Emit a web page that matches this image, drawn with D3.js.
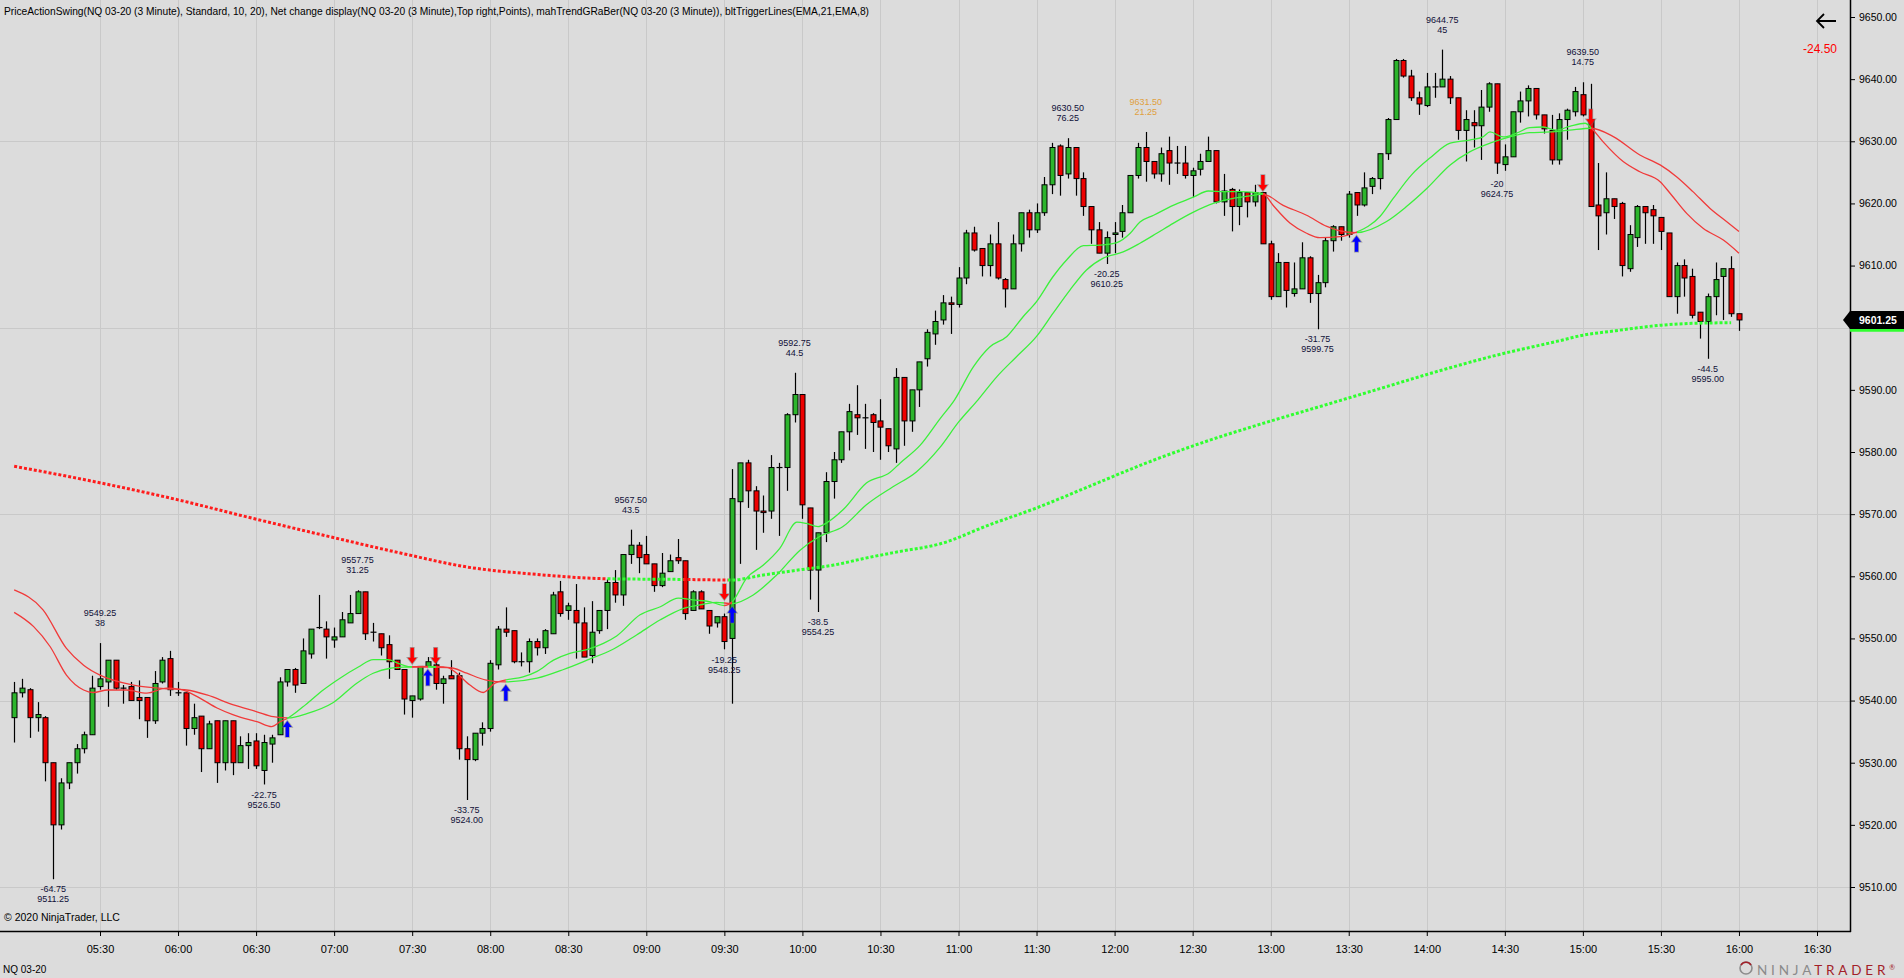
<!DOCTYPE html>
<html>
<head>
<meta charset="utf-8">
<script src="https://cdn.jsdelivr.net/npm/d3@7"></script>
<style>
body { margin:0; background:#dcdcdc; overflow:hidden; }
svg { display:block; font-family:'Liberation Sans', Arial, sans-serif; }
</style>
</head>
<body>
<div id="chart"></div>
<script>
var W = 1904, H = 978
var plotRight = 1850, plotBottom = 931

var title = 'PriceActionSwing(NQ 03-20 (3 Minute), Standard, 10, 20), Net change display(NQ 03-20 (3 Minute),Top right,Points), mahTrendGRaBer(NQ 03-20 (3 Minute)), bltTriggerLines(EMA,21,EMA,8)'
var instrument = 'NQ 03-20'
var lastPrice = 9601.25
var netChange = '-24.50'

// 3 minute bars, first bar 04:57, last bar 16:00
var opens = [
 9537.25,9541.25,9541.75,9537.25,9537.25,9530,9520,9526.75,9530,9532.25,
 9534.5,9542.25,9543,9546.5,9542,9542.25,9540.5,9540.5,9536.75,9543,
 9546.75,9541.25,9541.25,9535.5,9537.5,9532.25,9536.75,9530,9536.75,9530,
 9532.75,9533.5,9528.75,9533,9534.5,9543,9545,9542.75,9547.5,9551.75,
 9551.5,9549.75,9550.25,9552.5,9554,9557.5,9551,9550.75,9549,9546.5,
 9545,9540,9540.25,9545.5,9545.75,9542.75,9544,9544,9532.25,9530.5,
 9534.75,9535.5,9545.75,9551.5,9551.25,9546.25,9546.25,9549.5,9548.5,9550.75,
 9557.5,9554.5,9554.5,9552.5,9547.25,9551.25,9554.5,9559,9557,9563.5,
 9565,9563.5,9562,9558.5,9560.75,9563,9562.5,9554.5,9557.5,9554.5,
 9552.5,9553.5,9550,9572,9578.25,9573.75,9570.5,9570.5,9577.5,9577.5,
 9586,9589.25,9571,9561,9567,9575.25,9578.75,9583.25,9586,9585.5,
 9586,9585,9583.75,9580.5,9592,9585,9590,9595,9599,9601.25,
 9604,9603.75,9608,9615.25,9612.75,9610,9613.5,9607.75,9606.25,9613.5,
 9618.5,9615.75,9618.5,9623,9629.25,9624.75,9629,9624,9619.5,9615.75,
 9612,9615,9615.5,9618.5,9624.5,9629,9626.75,9624.75,9628.5,9626.5,
 9626.5,9624.5,9625.5,9626.75,9628.5,9620.25,9622.25,9619.5,9621.75,9620.25,
 9621.75,9613.5,9605,9610.5,9605.5,9606.25,9611.25,9605.5,9607.25,9614,
 9616.25,9615,9621.75,9619.75,9622.75,9624,9628,9633.5,9643,9640.5,
 9637,9635.75,9638.75,9638.75,9640,9637,9631.75,9633,9632.5,9635.5,
 9639.25,9626.25,9627.5,9634.75,9636.5,9638.5,9634.25,9631.75,9627,9633.5,
 9634.75,9637.5,9633.5,9619.75,9618.5,9620.75,9620,9609.5,9614.5,9619.5,
 9619,9617.75,9615.25,9605,9610,9608.25,9602.5,9601,9605,9608.25,
 9609.5,9602.25]
var highs = [
 9543,9543.5,9542,9539.75,9537.5,9530,9527.5,9530,9533,9535,
 9544,9549.25,9546.5,9546.5,9542.5,9543,9543.25,9540.5,9544.75,9547,
 9548,9543,9541.25,9539.5,9537.5,9536.75,9536.75,9536.75,9536.75,9534.25,
 9534.75,9534.75,9534.5,9534.5,9543.75,9545,9545.25,9550,9551.5,9557,
 9552.75,9551.75,9554.25,9557,9557.75,9557.5,9552.5,9550.75,9550.5,9546.5,
 9545,9540.75,9545.5,9547,9546.5,9544,9546.5,9544.5,9534.25,9534.75,
 9536.5,9546.5,9552,9555,9551.25,9547.75,9550,9550,9551.5,9557.5,
 9559.25,9555.75,9558.75,9555,9556,9554.5,9559.5,9561,9563.5,9567.5,
 9565.5,9566.5,9562,9563.75,9563.5,9566,9562.5,9557.75,9557.75,9554.5,
 9553.5,9554,9577.25,9578.25,9578.75,9574.5,9573,9579.5,9578.25,9586.25,
 9592.75,9589.25,9571,9567,9576.75,9580,9583.25,9587.75,9590.75,9587.75,
 9586.25,9588.5,9583.75,9593.5,9592,9590,9594.5,9599.75,9602.75,9605.25,
 9605,9609.75,9615.75,9616.25,9612.75,9615,9617,9608,9615,9618.5,
 9619,9620,9624.25,9629.75,9629.5,9630.5,9629,9625,9619.5,9617,
 9615.5,9617,9619.75,9624.5,9629.75,9631.5,9626.75,9629,9630.75,9629.25,
 9629.25,9625.75,9628,9630.75,9628.5,9624.75,9622.5,9622.25,9621.75,9623,
 9621.75,9614,9612,9610.5,9610.5,9613.75,9611.5,9608.5,9614.5,9616.5,
 9616.25,9622,9621.75,9625,9624.25,9628,9633.75,9643.25,9643.25,9641.5,
 9638,9641,9641,9644.75,9640.5,9637,9635,9635,9638.25,9639.5,
 9639.25,9629.5,9634.75,9638,9639,9638.5,9634.25,9634.25,9634.5,9635.25,
 9638.75,9639.5,9639.25,9626.5,9625,9620.75,9620.25,9616.5,9619.75,9619.5,
 9619.75,9617.75,9615.25,9610.5,9611,9609.5,9602.5,9605.5,9610.5,9609.5,
 9611.5,9602.25]
var lows = [
 9533.25,9540.5,9534,9535,9527,9511.25,9519.25,9525.75,9528.25,9531.5,
 9534.5,9541.75,9539,9541.75,9539.5,9540,9537,9534,9536.25,9542.75,
 9540.75,9540.75,9532.75,9534.5,9528.5,9532.25,9526.75,9528.75,9528,9530,
 9529,9529,9526.5,9530,9534.5,9542.25,9541.25,9542.75,9546.75,9551.5,
 9546.75,9548.5,9550.25,9552.5,9554,9549.75,9549.5,9547.25,9543.5,9545,
 9537.75,9537.25,9540,9545.5,9541.75,9539.5,9543.5,9530.5,9524,9530.25,
 9532.75,9535,9545,9550.25,9546,9545.5,9544.5,9547.25,9547.5,9550.75,
 9553.5,9553,9546.75,9547,9546,9550.75,9551.5,9555.75,9555.25,9562,
 9560.5,9562,9557.5,9558.25,9560.75,9562,9553,9554.5,9554.75,9550.75,
 9551.75,9548.25,9539.5,9562,9571,9564.25,9567,9569.25,9566.5,9573.75,
 9584.75,9569.25,9556.25,9554.25,9565.5,9572.5,9578.25,9580.25,9582.75,9580.5,
 9580,9578.75,9580,9578.25,9581,9583.25,9587.25,9593.75,9597.25,9600.5,
 9599,9603.25,9607,9612.25,9608.25,9608.25,9607.75,9603.25,9606.25,9612.25,
 9614.5,9615.25,9618,9621.5,9621.25,9624,9621.25,9618,9613.5,9612,
 9610.25,9612,9614.5,9618.5,9624,9623.5,9624,9623.5,9623,9624.75,
 9624,9621,9624.5,9626.75,9620,9618,9615.5,9616.5,9617.75,9619.5,
 9613.5,9604.5,9605,9603.25,9605,9606.25,9604,9599.75,9606.5,9612.25,
 9614,9614.5,9618,9619.5,9621.5,9622.25,9627,9633.5,9640.25,9636.5,
 9634.25,9635.5,9637,9638.75,9636,9630.25,9626.75,9629,9627,9634.75,
 9624.75,9625.25,9627.5,9633,9634,9633.5,9631.25,9626.25,9626.25,9630.25,
 9634,9634,9619.5,9612.5,9615,9617.5,9608.25,9609,9613,9613.5,
 9613.5,9612.5,9605,9602.25,9605,9601.5,9598.25,9595,9602,9601.25,
 9601.75,9599.5]
var closes = [
 9541.25,9542,9537.25,9537.75,9530,9520,9526.75,9530,9532.25,9534.5,
 9542,9543.5,9546.5,9542,9542,9540,9540,9536.75,9542.75,9546.5,
 9541.75,9541.25,9535.5,9537.25,9532.25,9536.25,9530,9536.75,9530,9532.75,
 9533.25,9529.5,9533.25,9534,9543,9545,9542.5,9548,9551.5,9551.75,
 9550.25,9550.25,9553,9554,9557.5,9550.75,9551,9548.5,9546.25,9545,
 9540.25,9540.75,9545.5,9546.25,9542.75,9543.5,9543.5,9532.25,9530.5,9534.75,
 9535.5,9546,9551.5,9551,9546.25,9546.25,9549.5,9548.5,9551.25,9557,
 9554,9555.25,9552.5,9547,9551,9554.5,9559,9557,9563.5,9565,
 9563,9562,9558.5,9560.5,9562.5,9562.5,9554,9557.5,9554.75,9552,
 9553.5,9549.5,9572.5,9578.25,9573.75,9570.5,9570.25,9577.5,9577.5,9586,
 9589.25,9571.5,9561,9567,9575.25,9578.75,9583.25,9586.5,9585.5,9585.5,
 9584.75,9584,9581,9592,9585,9590,9594.5,9599.25,9601,9604,
 9603.75,9608,9615.25,9612.5,9610,9613.5,9608,9606.25,9613.5,9618.5,
 9615.75,9618.5,9623,9629,9624.5,9629,9624,9619.5,9615.75,9612,
 9614.5,9615.25,9618.5,9624.5,9629,9626.75,9624.75,9628,9626.5,9626.5,
 9624.5,9625.25,9626.75,9628.5,9620.25,9622,9619.5,9621.75,9620.25,9621.75,
 9613.5,9605,9610.5,9606,9606.25,9611.25,9605.5,9607.25,9614,9616.25,
 9615,9621.5,9619.75,9622.5,9624,9628,9633.5,9643,9640.5,9637,
 9636,9638.75,9638.75,9640,9637,9631.75,9633.5,9632.5,9635.5,9639.25,
 9626.5,9627.5,9634.75,9636.5,9638.5,9634.25,9632,9627,9633.5,9635,
 9638,9634.25,9619.5,9618,9620.75,9619.5,9610,9615,9619.5,9618.5,
 9618,9615.5,9605,9610,9608,9602,9601,9605,9607.75,9609.5,
 9602.25,9601.25]

// trigger lines (bar index, price)
var fastIdx = [0,2.5,4.6,6.7,8.9,10.1,12,14.4,17,19.5,21.3,23.8,26,28.1,30.2,31.1,33,34.1,35.1,37.5,
 39.6,41.75,44.1,46,47.9,49.2,50.9,53,55.5,56.7,58.4,60.1,61.6,62.9,65.2,67,69.1,71.2,73.4,75.5,
 77.2,80.2,82.8,85.1,87,89.2,91,92,93.85,96,98.1,100.3,101.5,103,104.1,106.2,109.2,112.2,113.5,116.1,
 118.6,120.5,122.9,125,127.2,129.3,131,133.1,134.85,137,139.1,141.3,143,144.25,146,148.5,151.1,153,155,157.1,
 160,161.3,163.5,165.6,167.3,169.9,172,175,176.7,179.05,181.4,184,186.5,188.2,189.1,190.8,192.5,194.2,195.9,197.6,
 199.3,201.3,202.1,203.6,206.2,208.3,210.9,212.2,214.3,216.4,219,221]
var fastVal = [9554.2,9551.9,9548.7,9544.1,9541.7,9541.3,9541.7,9541.7,9541.2,9542.0,9541.8,9540.4,9538.8,9537.7,9536.9,9536.6,9535.8,9536.6,9537.2,9539.5,
 9541.7,9543.6,9545.4,9546.6,9546.6,9546.0,9545.4,9545.4,9545.3,9544.4,9542.5,9541.3,9542.8,9543.3,9543.8,9544.7,9546.5,9547.6,9548.2,9549.2,
 9550.4,9553.8,9555.1,9556.5,9556.2,9555.9,9555.3,9555.9,9559.7,9561.8,9564.5,9568.7,9568.5,9568.0,9568.6,9570.7,9575.0,9576.7,9578.2,9581.1,
 9585.3,9588.4,9593.7,9596.9,9598.6,9601.8,9604.2,9608.2,9610.9,9613.2,9613.3,9613.7,9615.2,9617.0,9618.1,9619.7,9621.0,9622.0,9621.9,9621.9,
 9621.6,9619.7,9616.8,9615.2,9614.5,9614.65,9615.4,9617.9,9620.8,9624.6,9627.3,9629.7,9630.2,9630.7,9631.5,9630.7,9631.3,9632.2,9632.3,9631.8,
 9632.4,9632.9,9632.1,9629.9,9626.7,9625.1,9623.5,9621.6,9618.4,9616.0,9614.1,9612.0]
var slowIdx = [0,3.7,6.7,8.9,11,15.3,19.5,22.1,24.7,28.1,31.1,33.2,35.1,37.5,40.9,43.9,46,48.2,50.3,53,
 55,56.3,58,60.5,62.9,67,70.4,73.4,76.8,79.8,82.8,85.7,88.3,90,92,94.7,97.7,100.7,103.2,106.2,
 109.2,112.6,115.6,118.6,121,123.5,125.9,128.4,131,133.1,135.3,137.4,139.55,142.1,144.25,146.4,148.5,151.1,153.65,156.2,
 158.35,160,162.6,165.6,168.2,170.7,172,175.85,178.4,181,184,186.5,189.1,191.65,194.2,196.8,199.3,202.1,204.9,208.3,
 210.9,213,215.1,217.3,219.4,221]
var slowVal = [9557.8,9554.6,9548.4,9545.7,9544.1,9542.5,9541.9,9541.7,9540.9,9539.3,9538.2,9537.4,9537.2,9537.9,9539.7,9542.8,9544.4,9545.2,9545.4,9545.5,
 9545.4,9545.2,9544.4,9543.3,9543.0,9543.6,9545.0,9546.5,9548.3,9550.6,9553.0,9554.8,9555.5,9555.8,9555.6,9557.0,9560.2,9564.2,9566.4,9568.0,
 9571.5,9574.4,9576.8,9580.7,9584.8,9588.4,9592.1,9595.3,9598.6,9602.3,9606.1,9609.3,9611.2,9612.2,9613.6,9615.2,9616.8,9618.6,9620.0,9620.8,
 9621.2,9621.5,9619.7,9618.1,9616.3,9615.4,9615.3,9617.1,9619.5,9622.4,9626.2,9628.3,9629.7,9630.7,9631.4,9631.5,9631.8,9632.1,9630.75,9627.8,
 9626.2,9624.3,9621.9,9619.2,9617.1,9615.5]
var upSignals = [35, 53, 63, 92, 172]
var downSignals = [51, 54, 91, 160, 202]

// mahTrendGRaBer dotted line (bar index, price) and where it is green
var dotIdx = [0,10,21,30,40,50,58,67,76,85,92,96,101,105,109,113.5,118.6,125,131,138,
 145,152,160,167,175,183,190,198,201,204.5,207.5,211,215,220]
var dotVal = [9577.7,9575.3,9572.3,9569.5,9566.5,9563.6,9561.5,9560.3,9559.6,9559.5,9559.4,9560.2,9561.1,9561.8,9562.9,9564.0,9565.2,9568.3,9571.0,9574.6,
 9578.2,9581.4,9584.6,9587.2,9590.2,9593.2,9595.6,9597.9,9598.8,9599.4,9599.9,9600.4,9600.7,9600.8]
var dotBreaks = [76, 85.7, 91.5]

// swing labels
var swingHighIdx = [11, 44, 79, 100, 135, 145, 183, 201]
var swingHighPrice = ['9549.25','9557.75','9567.50','9592.75','9630.50','9631.50','9644.75','9639.50']
var swingHighMove = ['38','31.25','43.5','44.5','76.25','21.25','45','14.75']
var swingLowIdx = [5, 32, 58, 91, 103, 140, 167, 190, 217]
var swingLowPrice = ['9511.25','9526.50','9524.00','9548.25','9554.25','9610.25','9599.75','9624.75','9595.00']
var swingLowMove = ['-64.75','-22.75','-33.75','-19.25','-38.5','-20.25','-31.75','-20','-44.5']
var pendingSwing = 145

var upColor = '#2db52d', downColor = '#ee0000'
var lineRed = '#f03a3a', lineGreen = '#3cf03c'
var dotRed = '#ff1c1c', dotGreen = '#30ff30'

var firstBar = new Date(2020, 1, 14, 4, 57)
var x = d3.scaleTime()
	.domain([new Date(2020, 1, 14, 5, 30), new Date(2020, 1, 14, 16, 30)])
	.range([100, 1817])
var y = d3.scaleLinear().domain([9510, 9650]).range([887, 17])

function barTime(i) { return new Date(firstBar.getTime() + i * 180000) }
function xAt(i) { return x(barTime(i)) }
function valueAt(idx, val, i) {
	var j = d3.bisectRight(idx, i)
	if (j <= 0) return val[0]
	if (j >= idx.length) return val[val.length - 1]
	var t = (i - idx[j-1]) / (idx[j] - idx[j-1])
	return val[j-1] + t * (val[j] - val[j-1])
}

var svg = d3.select('#chart').append('svg').attr('width', W).attr('height', H)
svg.append('rect').attr('width', W).attr('height', H).attr('fill', '#dcdcdc')

var defs = svg.append('defs')
defs.append('clipPath').attr('id', 'plotClip').append('rect')
	.attr('x', 0).attr('y', 0).attr('width', plotRight).attr('height', plotBottom)

function addGradient(id, breaks, colors) {
	var g = defs.append('linearGradient').attr('id', id)
		.attr('gradientUnits', 'userSpaceOnUse')
		.attr('x1', 0).attr('x2', plotRight).attr('y1', 0).attr('y2', 0)
	g.append('stop').attr('offset', 0).attr('stop-color', colors[0])
	breaks.forEach(function(b, k) {
		var off = xAt(b) / plotRight
		g.append('stop').attr('offset', off).attr('stop-color', colors[k])
		g.append('stop').attr('offset', off).attr('stop-color', colors[k+1])
	})
	g.append('stop').attr('offset', 1).attr('stop-color', colors[colors.length-1])
}

// colour changes of the trigger lines follow the arrows
var signals = upSignals.map(function(d){ return {i: d, up: true} })
	.concat(downSignals.map(function(d){ return {i: d, up: false} }))
	.sort(function(a, b){ return a.i - b.i })
var trigColors = [lineRed].concat(signals.map(function(s){ return s.up ? lineGreen : lineRed }))
addGradient('trigGrad', signals.map(function(s){ return s.i }), trigColors)
addGradient('dotGrad', dotBreaks, [dotRed, dotGreen, dotRed, dotGreen])

// grid
var timeTicks = x.ticks(d3.timeMinute.every(30))
var grid = svg.append('g').attr('stroke', '#c9c9c9').attr('stroke-width', 1)
timeTicks.forEach(function(t) {
	var gx = Math.round(x(t)) + 0.5
	grid.append('line').attr('x1', gx).attr('x2', gx).attr('y1', 0).attr('y2', plotBottom)
})
d3.range(9510, 9650, 30).forEach(function(p) {
	var gy = Math.round(y(p)) + 0.5
	grid.append('line').attr('x1', 0).attr('x2', plotRight).attr('y1', gy).attr('y2', gy)
})

var plot = svg.append('g').attr('clip-path', 'url(#plotClip)')

// candles
var candles = plot.append('g')
closes.forEach(function(c, i) {
	var cx = Math.round(xAt(i)) + 0.5
	var o = opens[i]
	candles.append('line').attr('x1', cx).attr('x2', cx)
		.attr('y1', y(highs[i])).attr('y2', y(lows[i]))
		.attr('stroke', '#000').attr('stroke-width', 1.2)
	if (o === c) {
		candles.append('line').attr('x1', cx - 3).attr('x2', cx + 3)
			.attr('y1', y(c)).attr('y2', y(c)).attr('stroke', '#000').attr('stroke-width', 1.2)
	} else {
		var top = y(Math.max(o, c)), bot = y(Math.min(o, c))
		candles.append('rect').attr('x', cx - 2.5).attr('width', 5)
			.attr('y', top).attr('height', Math.max(1, bot - top))
			.attr('fill', c > o ? upColor : downColor)
			.attr('stroke', '#000').attr('stroke-width', 1)
	}
})

// dotted trend line
var dotLine = d3.line().x(function(d){ return xAt(d[0]) }).y(function(d){ return y(d[1]) })
	.curve(d3.curveMonotoneX)
plot.append('path').datum(d3.zip(dotIdx, dotVal)).attr('d', dotLine)
	.attr('fill', 'none').attr('stroke', 'url(#dotGrad)')
	.attr('stroke-width', 3).attr('stroke-dasharray', '3,2')

// trigger lines
var trigLine = d3.line().x(function(d){ return xAt(d[0]) }).y(function(d){ return y(d[1]) })
	.curve(d3.curveMonotoneX)
plot.append('path').datum(d3.zip(slowIdx, slowVal)).attr('d', trigLine)
	.attr('fill', 'none').attr('stroke', 'url(#trigGrad)').attr('stroke-width', 1.3)
plot.append('path').datum(d3.zip(fastIdx, fastVal)).attr('d', trigLine)
	.attr('fill', 'none').attr('stroke', 'url(#trigGrad)').attr('stroke-width', 1.3)

// signal arrows
var arrows = plot.append('g')
signals.forEach(function(s) {
	var ax = xAt(s.i)
	var lv = y(valueAt(slowIdx, slowVal, s.i))
	var d = s.up ? 1 : -1
	var tip = lv + d * 3
	var pts = [[0,0],[-4.5,6],[-1.7,6],[-1.7,16],[1.7,16],[1.7,6],[4.5,6]]
	arrows.append('path')
		.attr('d', 'M' + pts.map(function(p){ return (ax + p[0]) + ',' + (tip + d * p[1]) }).join('L') + 'Z')
		.attr('fill', s.up ? '#0000ff' : '#ff0000')
		.attr('stroke', 'rgba(110,110,110,0.55)').attr('stroke-width', 1.6)
		.style('paint-order', 'stroke')
})

// swing labels
var labels = svg.append('g').attr('font-size', '9px').attr('text-anchor', 'middle')
swingHighIdx.forEach(function(b, k) {
	var lx = xAt(b), ly = y(highs[b])
	var col = b === pendingSwing ? '#e0a040' : '#101038'
	labels.append('text').attr('x', lx).attr('y', ly - 26.8).attr('fill', col).text(swingHighPrice[k])
	labels.append('text').attr('x', lx).attr('y', ly - 16.8).attr('fill', col).text(swingHighMove[k])
})
swingLowIdx.forEach(function(b, k) {
	var lx = xAt(b), ly = y(lows[b])
	labels.append('text').attr('x', lx).attr('y', ly + 13.2).attr('fill', '#101038').text(swingLowMove[k])
	labels.append('text').attr('x', lx).attr('y', ly + 23.2).attr('fill', '#101038').text(swingLowPrice[k])
})

// axes
var yAxis = svg.append('g').attr('transform', 'translate(' + plotRight + ',0)')
	.call(d3.axisRight(y).tickValues(d3.range(9510, 9651, 10)).tickSize(5).tickPadding(4)
		.tickFormat(d3.format('.2f')))
yAxis.select('.domain').remove()
yAxis.selectAll('text').attr('font-size', '10.5px').attr('font-family', "'Liberation Sans', Arial").attr('fill', '#000')
yAxis.selectAll('line').attr('stroke', '#000')
// the last price marker covers this label
yAxis.selectAll('.tick').filter(function(d){ return Math.abs(y(d) - y(lastPrice)) < 12 }).select('text').remove()

var xAxis = svg.append('g').attr('transform', 'translate(0,' + plotBottom + ')')
	.call(d3.axisBottom(x).tickValues(timeTicks).tickSize(5).tickPadding(9)
		.tickFormat(d3.timeFormat('%H:%M')))
xAxis.select('.domain').remove()
xAxis.selectAll('text').attr('font-size', '11px').attr('font-family', "'Liberation Sans', Arial").attr('fill', '#000')
xAxis.selectAll('line').attr('stroke', '#000')

svg.append('line').attr('x1', plotRight + 0.5).attr('x2', plotRight + 0.5).attr('y1', 0).attr('y2', plotBottom + 1)
	.attr('stroke', '#000').attr('stroke-width', 1.5)
svg.append('line').attr('x1', 0).attr('x2', plotRight + 1).attr('y1', plotBottom + 0.5).attr('y2', plotBottom + 0.5)
	.attr('stroke', '#000').attr('stroke-width', 1.5)

// price markers on the right axis
var dotLast = dotVal[dotVal.length - 1]
svg.append('rect').attr('x', plotRight).attr('y', y(dotLast) - 9).attr('width', W - plotRight).attr('height', 18)
	.attr('fill', dotGreen)
var py = y(lastPrice)
svg.append('path')
	.attr('d', 'M' + (plotRight - 7) + ',' + py + 'L' + plotRight + ',' + (py - 9) + 'L' + W + ',' + (py - 9) +
		'L' + W + ',' + (py + 9) + 'L' + plotRight + ',' + (py + 9) + 'Z')
	.attr('fill', '#000')
svg.append('text').attr('x', plotRight + 9).attr('y', py + 4).attr('fill', '#fff')
	.attr('font-size', '10.5px').attr('font-weight', 'bold').text(d3.format('.2f')(lastPrice))

// net change display
svg.append('text').attr('x', 1820).attr('y', 53).attr('text-anchor', 'middle')
	.attr('fill', '#ff0000').attr('font-size', '12px').text(netChange)
svg.append('path').attr('d', 'M1836,21L1817,21M1824,14L1817,21L1824,28')
	.attr('fill', 'none').attr('stroke', '#000').attr('stroke-width', 1.8)

// texts
svg.append('text').attr('x', 4).attr('y', 14.5).attr('font-size', '10.5px').attr('fill', '#000')
	.attr('textLength', 865).attr('lengthAdjust', 'spacingAndGlyphs').text(title)
svg.append('text').attr('x', 4).attr('y', 921).attr('font-size', '10.5px').attr('fill', '#000')
	.text('\u00a9 2020 NinjaTrader, LLC')
svg.append('text').attr('x', 3).attr('y', 972.5).attr('font-size', '10px').attr('fill', '#000')
	.text(instrument)

// logo
var logo = svg.append('g')
logo.append('circle').attr('cx', 1746).attr('cy', 968).attr('r', 6)
	.attr('fill', 'none').attr('stroke', '#8c8c8c').attr('stroke-width', 1.6)
logo.append('path').attr('d', 'M1741,965A6,6 0 0,1 1751,965').attr('fill', 'none')
	.attr('stroke', '#a31f29').attr('stroke-width', 1.6)
var logoText = logo.append('text').attr('x', 1757).attr('y', 974.5).attr('font-size', '13.5px')
	.attr('font-family', "Lato, 'Liberation Sans', Arial").attr('textLength', 138).attr('lengthAdjust', 'spacing')
logoText.append('tspan').attr('fill', '#8a8a8a').text('NINJA')
logoText.append('tspan').attr('fill', '#a31f29').text('TRADER')
logoText.append('tspan').attr('fill', '#a31f29').attr('font-size', '7px').attr('dy', -5).text('\u00ae')
</script>
</body>
</html>
